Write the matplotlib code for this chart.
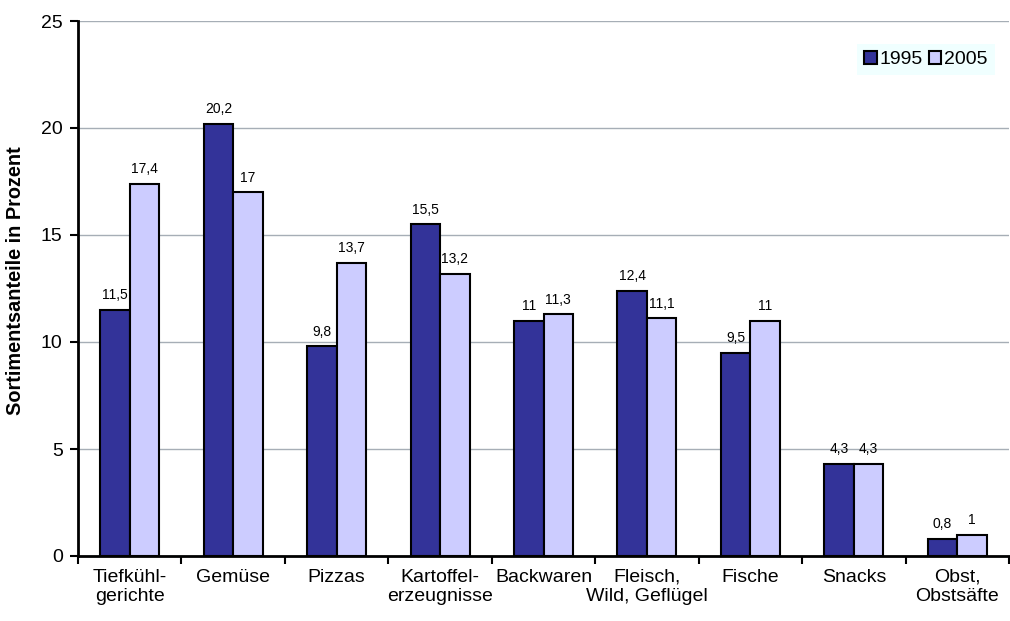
import matplotlib.pyplot as plt
import numpy as np
import matplotlib as mpl
from matplotlib.patches import Patch

mpl.rcParams['font.family'] = ['Liberation Sans', 'DejaVu Sans']

kategorien = ["Tiefkühl-\ngerichte", "Gemüse", "Pizzas", "Kartoffel-\nerzeugnisse",
              "Backwaren", "Fleisch,\nWild, Geflügel", "Fische", "Snacks", "Obst,\nObstsäfte"]
werte_1995 = [11.5, 20.2, 9.8, 15.5, 11, 12.4, 9.5, 4.3, 0.8]
werte_2005 = [17.4, 17, 13.7, 13.2, 11.3, 11.1, 11, 4.3, 1]
etiketten_1995 = ["11,5", "20,2", "9,8", "15,5", "11", "12,4", "9,5", "4,3", "0,8"]
etiketten_2005 = ["17,4", "17", "13,7", "13,2", "11,3", "11,1", "11", "4,3", "1"]

fig = plt.figure(figsize=(10.1, 6.21), dpi=100)
ax = fig.add_axes([78/1010, 65/621, 931/1010, 535/621])

x = np.arange(len(kategorien)) + 0.5
b = 0.285
ax.bar(x - b/2, werte_1995, b, color="#333399", edgecolor="black", linewidth=1.5, zorder=3)
ax.bar(x + b/2, werte_2005, b, color="#CCCCFF", edgecolor="black", linewidth=1.5, zorder=3)

for xi, v, t in zip(x, werte_1995, etiketten_1995):
    ax.text(xi - b/2, v + 0.35, t, ha="center", va="bottom", fontsize=10)
for xi, v, t in zip(x, werte_2005, etiketten_2005):
    ax.text(xi + b/2, v + 0.35, t, ha="center", va="bottom", fontsize=10)

ax.set_xlim(0, len(kategorien))
ax.set_ylim(0, 25)
ax.set_yticks([0, 5, 10, 15, 20, 25])
ax.set_xticks(np.arange(len(kategorien) + 1))
ax.set_xticklabels([])
ax.set_xticks(x, minor=True)
ax.set_xticklabels(kategorien, minor=True, fontsize=14)
ax.tick_params(axis="x", which="minor", length=0, pad=9)
ax.tick_params(axis="x", which="major", length=6, width=1.5, direction="out")
ax.tick_params(axis="y", length=6, width=1.5, labelsize=14, direction="out", pad=5)

ax.yaxis.grid(True, color="#A6AEB6", linewidth=1, zorder=0)
ax.spines["top"].set_visible(False)
ax.spines["right"].set_visible(False)
ax.spines["left"].set_linewidth(2)
ax.spines["bottom"].set_linewidth(2)

ax.set_ylabel("Sortimentsanteile in Prozent", fontsize=14.3, fontweight="bold")
ax.yaxis.set_label_coords(-0.057, 0.515)

handles = [Patch(facecolor="#333399", edgecolor="black", linewidth=1.5, label="1995"),
           Patch(facecolor="#CCCCFF", edgecolor="black", linewidth=1.5, label="2005")]
leg = ax.legend(handles=handles, loc="upper right", bbox_to_anchor=(0.995, 0.975), ncol=2,
                fontsize=14, frameon=True, fancybox=False, handlelength=0.65, handleheight=0.65,
                handletextpad=0.15, columnspacing=0.3, borderpad=0.35)
leg.get_frame().set_facecolor("#F0FFFF")
leg.get_frame().set_edgecolor("none")
leg.get_frame().set_alpha(1)

fig.savefig("out.png", dpi=100)
